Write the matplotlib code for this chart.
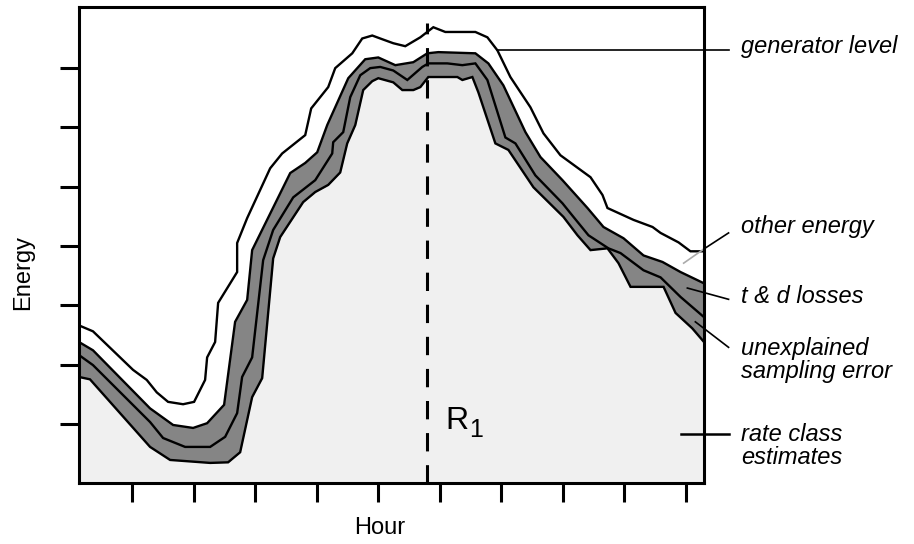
import matplotlib.pyplot as plt

plt.rcParams['font.family'] = ['Liberation Sans', 'DejaVu Sans']

# generator level (top line)
gen_x = [0.137, 0.365, 1.016, 1.239, 1.402, 1.586, 1.830, 2.009, 2.188, 2.221, 2.351, 2.400,
         2.709, 2.709, 2.872, 3.246, 3.441, 3.816, 3.913, 4.190, 4.304, 4.581, 4.743, 4.906,
         5.036, 5.248, 5.443, 5.688, 5.899, 6.094, 6.583, 6.778, 6.941, 7.152, 7.478, 7.690,
         7.966, 8.455, 8.650, 8.731, 9.154, 9.464, 9.594, 9.887, 10.08, 10.30]
gen_y = [2.66, 2.56, 1.91, 1.74, 1.53, 1.37, 1.33, 1.37, 1.74, 2.12, 2.38, 3.04,
         3.56, 4.05, 4.47, 5.31, 5.56, 5.87, 6.32, 6.68, 7.00, 7.25, 7.50, 7.55,
         7.50, 7.42, 7.37, 7.52, 7.69, 7.61, 7.61, 7.52, 7.30, 6.85, 6.34, 5.90,
         5.53, 5.16, 4.86, 4.64, 4.44, 4.32, 4.22, 4.06, 3.91, 3.91]

# top of t & d losses
loss_x = [0.137, 0.365, 1.293, 1.668, 1.993, 2.221, 2.497, 2.676, 2.872, 2.953, 3.572, 3.816,
          4.011, 4.174, 4.516, 4.792, 5.004, 5.281, 5.574, 5.802, 5.981, 6.583, 6.794, 7.038,
          7.397, 7.641, 7.999, 8.406, 8.666, 8.992, 9.317, 9.626, 9.919, 10.30]
loss_y = [2.38, 2.24, 1.26, 0.98, 0.93, 1.01, 1.32, 2.72, 3.09, 3.93, 5.23, 5.40,
          5.58, 6.04, 6.83, 7.15, 7.18, 7.05, 7.10, 7.25, 7.27, 7.25, 7.08, 6.71,
          5.92, 5.50, 5.11, 4.64, 4.32, 4.13, 3.84, 3.73, 3.56, 3.37]

# top of unexplained sampling error
err_x = [0.137, 0.365, 1.293, 1.505, 1.863, 2.270, 2.514, 2.709, 2.790, 2.953, 3.132, 3.295,
         3.621, 3.979, 4.255, 4.271, 4.434, 4.548, 4.711, 4.873, 5.036, 5.248, 5.476, 5.720,
         5.818, 6.127, 6.371, 6.583, 6.778, 7.071, 7.234, 7.559, 7.999, 8.178, 8.422, 8.747,
         8.943, 9.317, 9.594, 9.919, 10.30]
err_y = [2.16, 1.99, 1.03, 0.76, 0.61, 0.61, 0.78, 1.18, 1.79, 2.12, 3.76, 4.27,
         4.82, 5.11, 5.56, 5.75, 5.92, 6.51, 6.88, 7.00, 7.02, 6.96, 6.80, 7.02,
         7.08, 7.08, 7.05, 7.08, 6.80, 5.83, 5.73, 5.19, 4.72, 4.49, 4.18, 3.96,
         3.88, 3.59, 3.47, 3.14, 2.80]

# rate class estimates
rate_x = [0.137, 0.316, 1.293, 1.619, 2.270, 2.562, 2.758, 2.953, 3.116, 3.295, 3.409, 3.783,
          3.979, 4.190, 4.385, 4.499, 4.630, 4.759, 4.906, 5.004, 5.248, 5.395, 5.574, 5.688,
          5.818, 6.290, 6.371, 6.534, 6.632, 6.908, 7.120, 7.527, 8.015, 8.243, 8.455, 8.731,
          8.910, 9.106, 9.350, 9.643, 9.838, 10.11, 10.30]
rate_y = [1.79, 1.75, 0.61, 0.39, 0.34, 0.35, 0.52, 1.45, 1.77, 3.79, 4.15, 4.74,
          4.91, 5.03, 5.24, 5.73, 6.04, 6.63, 6.78, 6.83, 6.76, 6.63, 6.63, 6.68,
          6.85, 6.85, 6.80, 6.85, 6.59, 5.73, 5.62, 4.99, 4.49, 4.18, 3.93, 3.96,
          3.71, 3.31, 3.31, 3.31, 2.87, 2.61, 2.38]

r1_hour = 5.80

fig = plt.figure(figsize=(9.14, 5.44), dpi=100)
ax = fig.add_axes([0.0864, 0.112, 0.6838, 0.875])

ax.fill_between(loss_x, loss_y, 0, color='#858585', lw=0)
ax.fill_between(rate_x, rate_y, 0, color='#f0f0f0', lw=0)
for xs, ys in [(gen_x, gen_y), (loss_x, loss_y), (err_x, err_y), (rate_x, rate_y)]:
    ax.plot(xs, ys, color='black', lw=1.7, solid_joinstyle='miter')

ax.plot([r1_hour, r1_hour], [0, 7.76], color='black', lw=2.2, dashes=(6, 4.5))
# R with subscript 1
ax.text(6.094, 0.91, 'R', fontsize=23, va='baseline', ha='left')
ax.text(6.48, 0.78, '1', fontsize=18, va='baseline', ha='left')

ax.set_xlim(0.137, 10.30)
ax.set_ylim(0, 8.03)
ax.set_xticks(range(1, 11))
ax.set_yticks(range(1, 8))
ax.set_xticklabels([])
ax.set_yticklabels([])
ax.tick_params(direction='out', length=14, width=2.2)
for s in ax.spines.values():
    s.set_linewidth(2.2)

# leader lines and labels on the right
lab_x = 10.91
ax.plot([6.94, 10.70], [7.30, 7.30], color='black', lw=1.2, clip_on=False)
ax.plot([9.97, 10.30], [3.71, 3.95], color='#aaaaaa', lw=1.2, clip_on=False)
ax.plot([10.30, 10.70], [3.95, 4.22], color='black', lw=1.2, clip_on=False)
ax.plot([10.03, 10.70], [3.29, 3.10], color='black', lw=1.2, clip_on=False)
ax.plot([10.16, 10.70], [2.72, 2.29], color='black', lw=1.2, clip_on=False)
ax.plot([9.93, 10.70], [0.83, 0.83], color='black', lw=1.8, clip_on=False)

labels = ['generator level', 'other energy', 't & d losses',
          'unexplained\nsampling error', 'rate class\nestimates']
label_y = [7.37, 4.33, 3.14, 2.07, 0.62]
for t, y in zip(labels, label_y):
    ax.text(lab_x, y, t, fontsize=17, style='italic', va='center', ha='left',
            linespacing=1.0, clip_on=False)

fig.text(23 / 914, 1 - 272 / 544, 'Energy', rotation=90, fontsize=17, ha='center', va='center')
fig.text(380 / 914, 1 - 528 / 544, 'Hour', fontsize=17, ha='center', va='center')

fig.savefig('out.png', dpi=100)
